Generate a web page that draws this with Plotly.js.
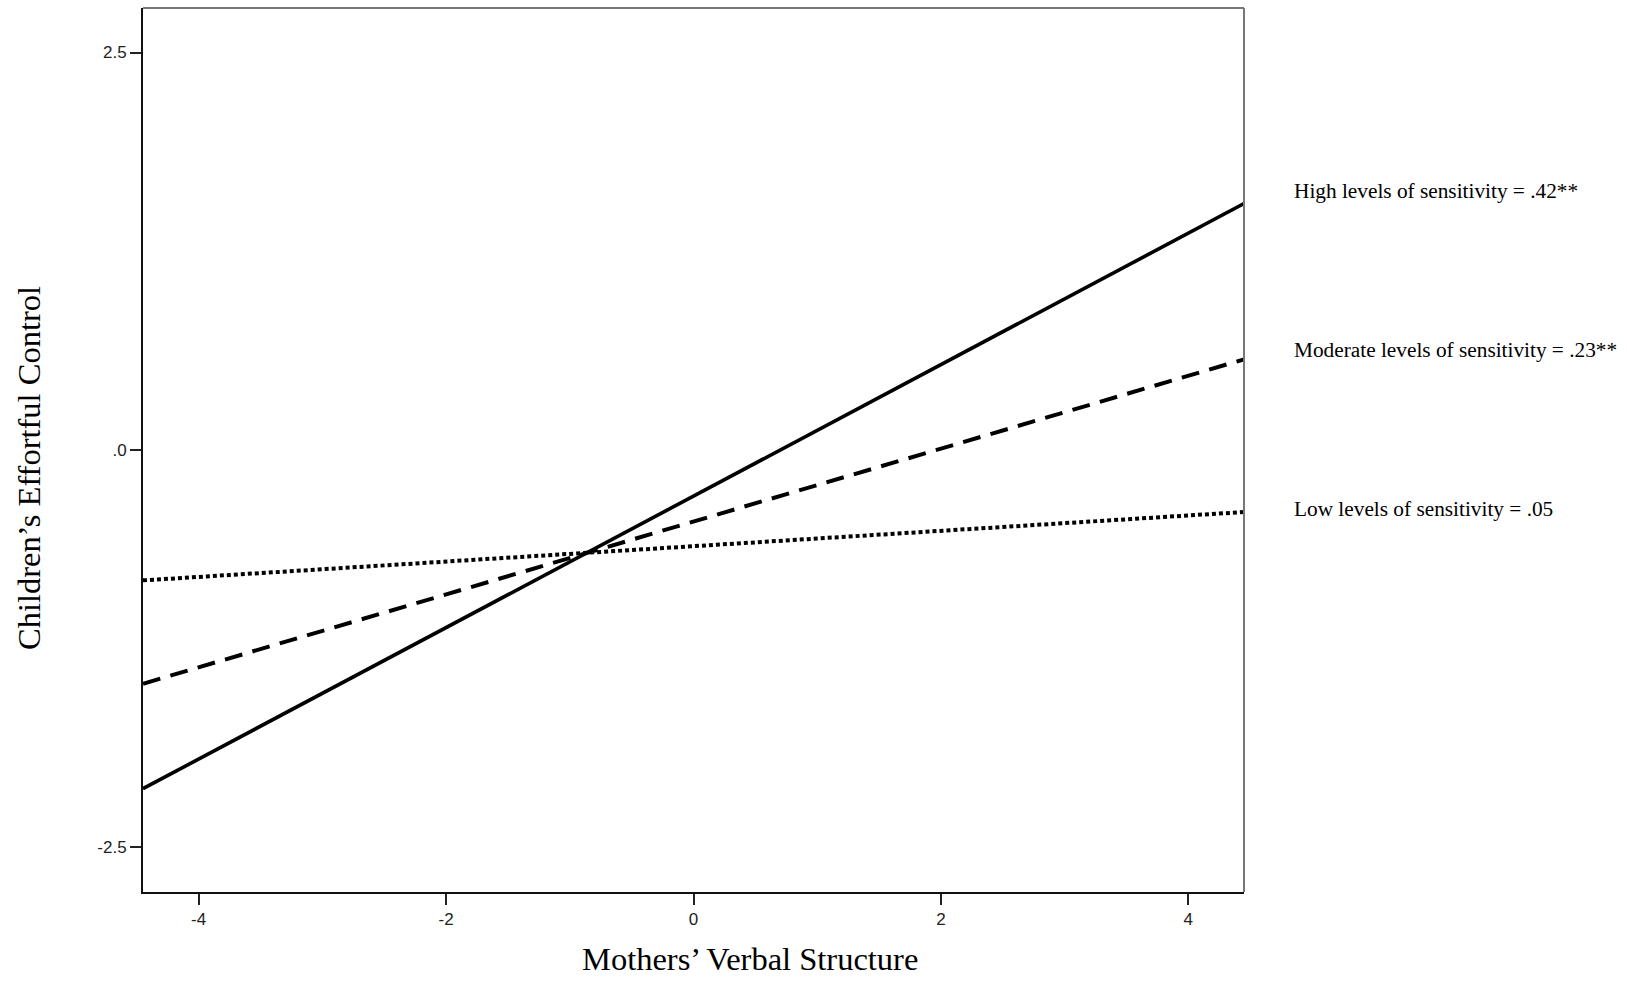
<!DOCTYPE html>
<html>
<head>
<meta charset="utf-8">
<script src="https://cdn.plot.ly/plotly-3.0.1.min.js"></script>
<style>html,body{margin:0;padding:0;background:#fff;}#chart{width:1627px;height:981px;}</style>
</head>
<body>
<div id="chart"></div>
<script>
// Data
const xEnds = [-4.45, 4.45];
const highSensitivity = [-2.13, 1.55];
const moderateSensitivity = [-1.47, 0.57];
const lowSensitivity = [-0.82, -0.39];
const seriesLabels = [
  "High levels of sensitivity = .42**",
  "Moderate levels of sensitivity = .23**",
  "Low levels of sensitivity = .05"
];
const xTickVals = [-4, -2, 0, 2, 4];
const xTickText = ["-4", "-2", "0", "2", "4"];
const yTickVals = [-2.5, 0, 2.5];
const yTickText = ["-2.5", ".0", "2.5"];

const traces = [
  {x: xEnds, y: highSensitivity, mode: "lines", name: seriesLabels[0],
   line: {color: "#000", width: 3.6, dash: "solid"}},
  {x: xEnds, y: moderateSensitivity, mode: "lines", name: seriesLabels[1],
   line: {color: "#000", width: 4, dash: "18px,10.5px"}},
  {x: xEnds, y: lowSensitivity, mode: "lines", name: seriesLabels[2],
   line: {color: "#000", width: 4, dash: "4px,3px"}}
];

const serif = "Liberation Serif, Times New Roman, serif";
const tickFont = {family: "Liberation Sans, Arial, sans-serif", size: 17, color: "#222"};
const layout = {
  width: 1627, height: 981,
  margin: {l: 143, r: 383, t: 8, b: 89},
  paper_bgcolor: "#fff", plot_bgcolor: "#fff",
  showlegend: false,
  xaxis: {
    range: [-4.45, 4.45], tickvals: xTickVals, ticktext: xTickText,
    ticks: "outside", ticklen: 11, tickwidth: 2, tickcolor: "#222",
    showline: true, linecolor: "#111", linewidth: 2, showgrid: false, zeroline: false,
    tickfont: tickFont
  },
  yaxis: {
    range: [-2.78, 2.78], tickvals: yTickVals, ticktext: yTickText,
    ticks: "outside", ticklen: 11, tickwidth: 2, tickcolor: "#222",
    showline: true, linecolor: "#111", linewidth: 2, showgrid: false, zeroline: false,
    tickfont: tickFont
  },
  shapes: [
    {type: "line", xref: "paper", yref: "paper", x0: 0, x1: 1, y0: 1, y1: 1,
     line: {color: "#777", width: 2}},
    {type: "line", xref: "paper", yref: "paper", x0: 1, x1: 1, y0: 0, y1: 1,
     line: {color: "#777", width: 2}}
  ],
  annotations: [
    {xref: "paper", yref: "y", x: 1.044, y: highSensitivity[1] + 0.08, xanchor: "left", yanchor: "middle",
     text: seriesLabels[0], showarrow: false, font: {family: serif, size: 21.3, color: "#000"}},
    {xref: "paper", yref: "y", x: 1.044, y: moderateSensitivity[1] + 0.06, xanchor: "left", yanchor: "middle",
     text: seriesLabels[1], showarrow: false, font: {family: serif, size: 21.3, color: "#000"}},
    {xref: "paper", yref: "y", x: 1.044, y: lowSensitivity[1] + 0.02, xanchor: "left", yanchor: "middle",
     text: seriesLabels[2], showarrow: false, font: {family: serif, size: 21.3, color: "#000"}},
    {xref: "paper", yref: "paper", x: (750 - 143) / 1101, y: -(959 - 892) / 884, xanchor: "center", yanchor: "middle",
     text: "Mothers\u2019 Verbal Structure", showarrow: false, font: {family: serif, size: 32.5, color: "#000"}},
    {xref: "paper", yref: "paper", x: -(143 - 29) / 1101, y: (892 - 468) / 884, xanchor: "center", yanchor: "middle",
     text: "Children\u2019s Effortful Control", textangle: -90, showarrow: false, font: {family: serif, size: 32.5, color: "#000"}}
  ]
};

Plotly.newPlot("chart", traces, layout, {displayModeBar: false, staticPlot: true});
</script>
</body>
</html>
